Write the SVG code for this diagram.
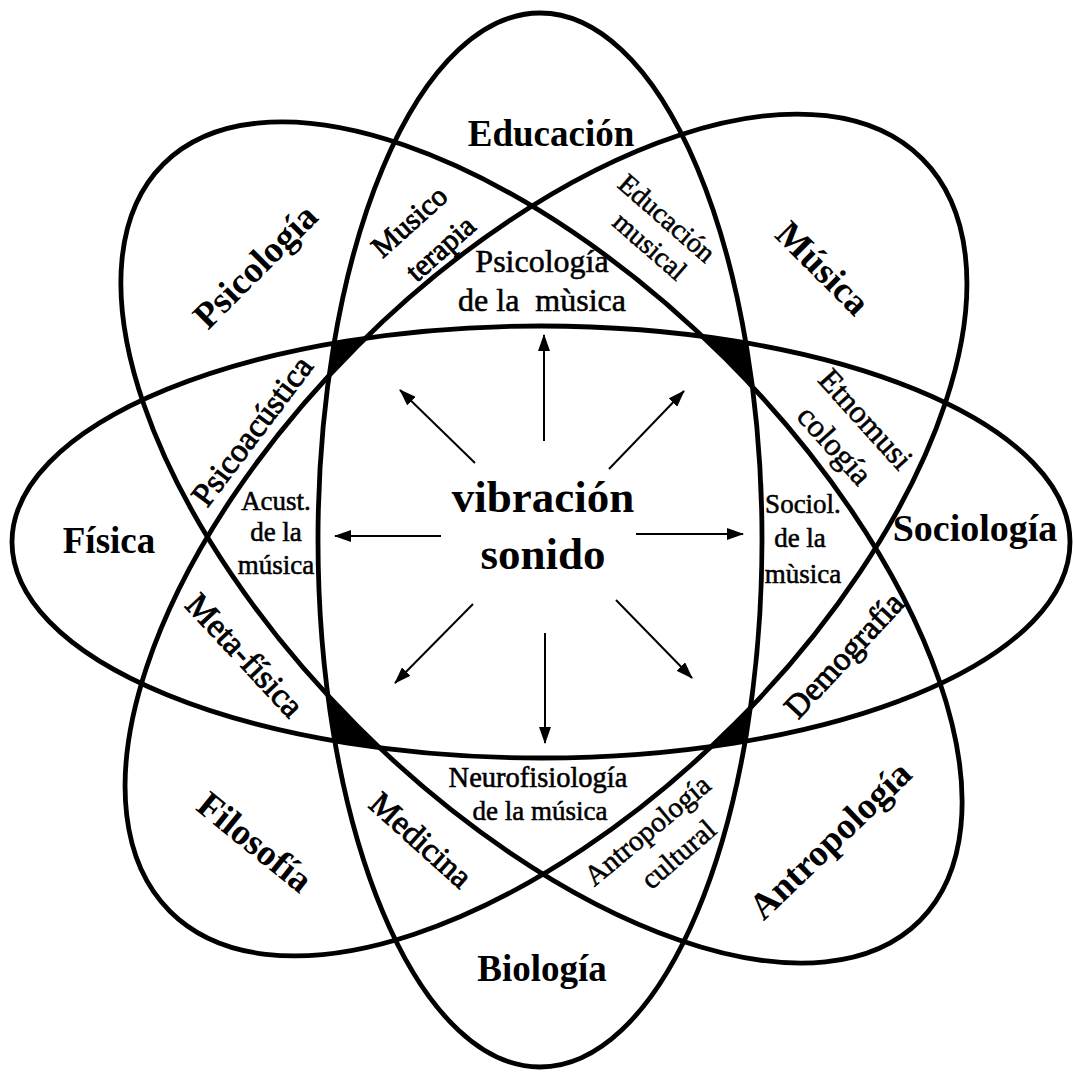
<svg xmlns="http://www.w3.org/2000/svg" width="1073" height="1076" viewBox="0 0 1073 1076">
  <style>
    .orbit { fill: none; stroke: #000; stroke-width: 4.8; }
    .arrow { stroke: #000; stroke-width: 2; fill: none; marker-end: url(#head); }
    text { font-family: "Liberation Serif", "DejaVu Serif", serif; fill: #000; }
    .big { font-weight: bold; font-size: 37px; }
    .core { font-weight: bold; font-size: 45px; }
    .mid { font-size: 32px; stroke: #000; stroke-width: 0.9; }
    .small { font-size: 27px; stroke: #000; stroke-width: 0.55; }
    .c { text-anchor: middle; }
    .r { text-anchor: middle; dominant-baseline: central; }
  </style>
  <defs>
    <marker id="head" markerUnits="userSpaceOnUse" markerWidth="18" markerHeight="12" refX="16" refY="6" orient="auto">
      <path d="M0,0 L17,6 L0,12 Z" fill="#000"/>
    </marker>
    <clipPath id="inH"><ellipse cx="541" cy="542" rx="529" ry="216"/></clipPath>
    <clipPath id="inV"><ellipse cx="540" cy="540" rx="222" ry="527"/></clipPath>
    <clipPath id="inD1"><ellipse cx="0" cy="0" rx="535" ry="260" transform="translate(541.5 542.5) rotate(45)"/></clipPath>
    <mask id="outsideCross">
      <rect width="1073" height="1076" fill="#fff"/>
      <g clip-path="url(#inD1)">
        <ellipse cx="0" cy="0" rx="532" ry="267" transform="translate(546 535) rotate(-45)" fill="#000"/>
      </g>
    </mask>
  </defs>

  <rect width="1073" height="1076" fill="#fff"/>

  <!-- filled corners where the four orbits overlap -->
  <g id="corners" clip-path="url(#inH)">
    <g clip-path="url(#inV)">
      <rect width="1073" height="1076" fill="#000" mask="url(#outsideCross)"/>
    </g>
  </g>

  <!-- the four orbits -->
  <g id="orbits">
    <ellipse id="orbit-vertical" class="orbit" cx="540" cy="540" rx="222" ry="527"/>
    <ellipse id="orbit-horizontal" class="orbit" cx="541" cy="542" rx="529" ry="216"/>
    <ellipse id="orbit-diag-down" class="orbit" cx="0" cy="0" rx="535" ry="260" transform="translate(541.5 542.5) rotate(45)"/>
    <ellipse id="orbit-diag-up" class="orbit" cx="0" cy="0" rx="532" ry="267" transform="translate(546 535) rotate(-45)"/>
  </g>

  <!-- radiating arrows -->
  <g id="connectors">
    <line class="arrow" x1="544" y1="441" x2="544" y2="335"/>
    <line class="arrow" x1="545" y1="633" x2="545" y2="743"/>
    <line class="arrow" x1="441" y1="536" x2="335" y2="536"/>
    <line class="arrow" x1="636" y1="534" x2="743" y2="534"/>
    <line class="arrow" x1="475" y1="463" x2="400" y2="390"/>
    <line class="arrow" x1="609" y1="469" x2="684" y2="391"/>
    <line class="arrow" x1="473" y1="604" x2="395" y2="683"/>
    <line class="arrow" x1="616" y1="600" x2="692" y2="678"/>
  </g>

  <g id="center">
    <text class="core c" x="543" y="512">vibración</text>
    <text class="core c" x="543" y="569">sonido</text>
  </g>

  <!-- disciplines -->
  <g id="educacion"><text class="big c" x="551" y="146">Educación</text></g>
  <g id="biologia"><text class="big c" x="542" y="981">Biología</text></g>
  <g id="fisica"><text class="big c" x="109" y="553">Física</text></g>
  <g id="sociologia"><text class="big c" x="975" y="541" style="font-size:38px">Sociología</text></g>
  <g id="psicologia"><text class="big r" transform="translate(255 266) rotate(-45)">Psicología</text></g>
  <g id="musica"><text class="big r" transform="translate(823 268) rotate(45)">Música</text></g>
  <g id="filosofia"><text class="big r" transform="translate(255 842) rotate(39)">Filosofía</text></g>
  <g id="antropologia"><text class="big r" transform="translate(830 840) rotate(-44)">Antropología</text></g>

  <!-- overlaps between neighbouring orbits -->
  <g id="musicoterapia">
    <text class="mid r" transform="translate(409 221) rotate(-42)" style="font-size:30px">Musico</text>
    <text class="mid r" transform="translate(440 248) rotate(-42)" style="font-size:30px">terapia</text>
  </g>
  <g id="educacion-musical">
    <text class="small r" transform="translate(667 218) rotate(41)" style="font-size:28px">Educación</text>
    <text class="small r" transform="translate(650 246) rotate(41)" style="font-size:28px">musical</text>
  </g>
  <g id="psicoacustica"><text class="mid r" transform="translate(252 431) rotate(-53)" style="font-size:33px">Psicoacústica</text></g>
  <g id="etnomusicologia">
    <text class="small r" transform="translate(866 419) rotate(48)" style="font-size:32px">Etnomusi</text>
    <text class="small r" transform="translate(835 445) rotate(48)" style="font-size:32px">cología</text>
  </g>
  <g id="metafisica"><text class="mid r" transform="translate(245 655) rotate(47)" style="font-size:34px">Meta-física</text></g>
  <g id="demografia"><text class="mid r" transform="translate(844 655) rotate(-47)" style="font-size:33px">Demografía</text></g>
  <g id="medicina"><text class="mid r" transform="translate(421 840) rotate(42)" style="font-size:33px">Medicina</text></g>
  <g id="antropologia-cultural">
    <text class="small r" transform="translate(647 830) rotate(-40)" style="font-size:29px">Antropología</text>
    <text class="small r" transform="translate(678 854) rotate(-41)" style="font-size:29px">cultural</text>
  </g>

  <!-- inner fields around the core -->
  <g id="psicologia-musica">
    <text class="small c" x="542" y="272" style="font-size:32px">Psicología</text>
    <text class="small c" x="542" y="311" style="font-size:32px" xml:space="preserve">de la  mùsica</text>
  </g>
  <g id="acustica-musica">
    <text class="small c" x="276" y="510">Acust.</text>
    <text class="small c" x="276" y="541">de la</text>
    <text class="small c" x="276" y="574">música</text>
  </g>
  <g id="sociologia-musica">
    <text class="small c" x="803" y="513">Sociol.</text>
    <text class="small c" x="800" y="547">de la</text>
    <text class="small c" x="803" y="583">mùsica</text>
  </g>
  <g id="neurofisiologia-musica">
    <text class="small c" x="538" y="787" style="font-size:28.5px">Neurofisiología</text>
    <text class="small c" x="540" y="820">de la música</text>
  </g>
</svg>
